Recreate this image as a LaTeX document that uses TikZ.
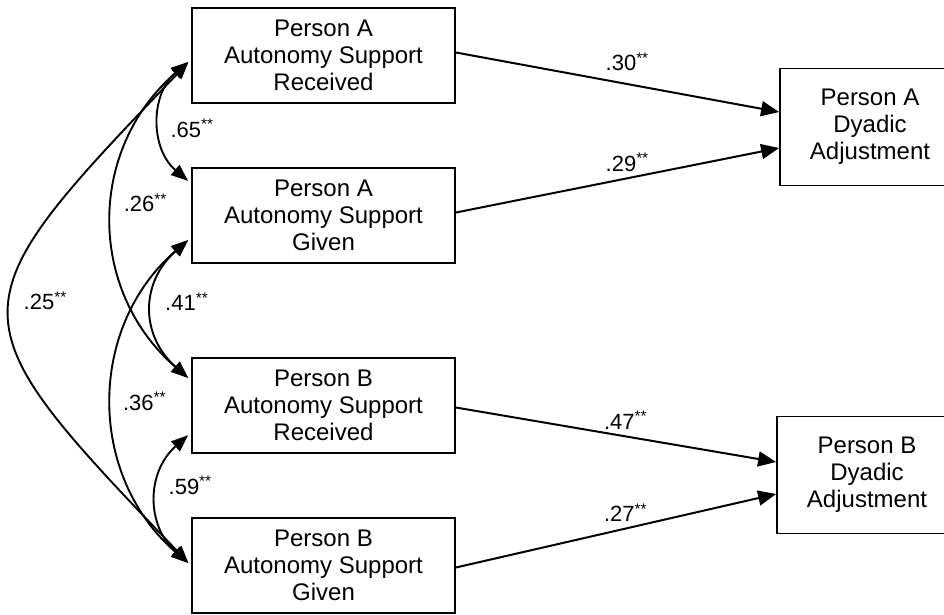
\documentclass[tikz,border=0pt]{standalone}
\usepackage{fontspec}
\setmainfont{Liberation Sans}
\usetikzlibrary{arrows.meta}

\begin{document}
\begin{tikzpicture}[x=1pt,y=-1pt,
  var/.style={draw, line width=1.8pt, inner sep=0pt, minimum width=263pt, minimum height=95pt, align=center, font=\fontsize{24}{27}\selectfont},
  outcome/.style={var, minimum width=180pt, minimum height=117pt},
  coef/.style={inner sep=1pt, font=\fontsize{22}{24}\selectfont},
  regarrow/.style={-{Triangle[length=18pt,width=15pt]}, line width=2pt},
  corarrow/.style={{Triangle[length=17pt,width=13pt]}-{Triangle[length=17pt,width=13pt]}, line width=1.9pt, shorten <=4pt, shorten >=4pt}]
\useasboundingbox (0,0) rectangle (944,615);
\node[var] (recA) at (323.5,55.5) {Person A\\Autonomy Support\\Received};
\node[var] (givA) at (323.5,215.5) {Person A\\Autonomy Support\\Given};
\node[var] (recB) at (323.5,405.5) {Person B\\Autonomy Support\\Received};
\node[var] (givB) at (323.5,565.5) {Person B\\Autonomy Support\\Given};
\node[outcome] (adjA) at (870,127) {Person A\\Dyadic\\Adjustment};
\node[outcome] (adjB) at (867,475) {Person B\\Dyadic\\Adjustment};

\draw[regarrow] ([yshift=3pt]recA.east) -- ([yshift=15pt]adjA.west) node[coef, pos=0.53, above=11pt] {.30\textsuperscript{**}};
\draw[regarrow] ([yshift=3pt]givA.east) -- ([yshift=-21pt]adjA.west) node[coef, pos=0.53, above=5pt] {.29\textsuperscript{**}};
\draw[regarrow] ([yshift=-2pt]recB.east) -- ([yshift=13pt]adjB.west) node[coef, pos=0.53, above=5pt] {.47\textsuperscript{**}};
\draw[regarrow] ([yshift=-2pt]givB.east) -- ([yshift=-19pt]adjB.west) node[coef, pos=0.53, above=5pt] {.27\textsuperscript{**}};

\draw[corarrow] ([yshift=-4pt]recA.west) .. controls +(-41,35) and +(-41,-35) .. ([yshift=32pt]givA.west) node[coef, pos=0.55, right=8pt] {.65\textsuperscript{**}};
\draw[corarrow] ([yshift=-4pt]recA.west) .. controls +(-104,90) and +(-104,-90) .. ([yshift=25pt]recB.west) node[coef, pos=0.45, right=8pt] {.26\textsuperscript{**}};
\draw[corarrow] ([yshift=-4pt]recA.west) .. controls +(-240,250) and +(-240,-250) .. (givB.west) node[coef, pos=0.47, right=10pt] {.25\textsuperscript{**}};
\draw[corarrow] ([yshift=-22pt]givA.west) .. controls +(-51,45) and +(-51,-45) .. ([yshift=25pt]recB.west) node[coef, pos=0.45, right=10pt] {.41\textsuperscript{**}};
\draw[corarrow] ([yshift=-22pt]givA.west) .. controls +(-104,90) and +(-104,-90) .. (givB.west) node[coef, pos=0.5, right=8pt] {.36\textsuperscript{**}};
\draw[corarrow] ([yshift=-27pt]recB.west) .. controls +(-45,40) and +(-45,-40) .. (givB.west) node[coef, pos=0.4, right=8pt] {.59\textsuperscript{**}};
\end{tikzpicture}
\end{document}
